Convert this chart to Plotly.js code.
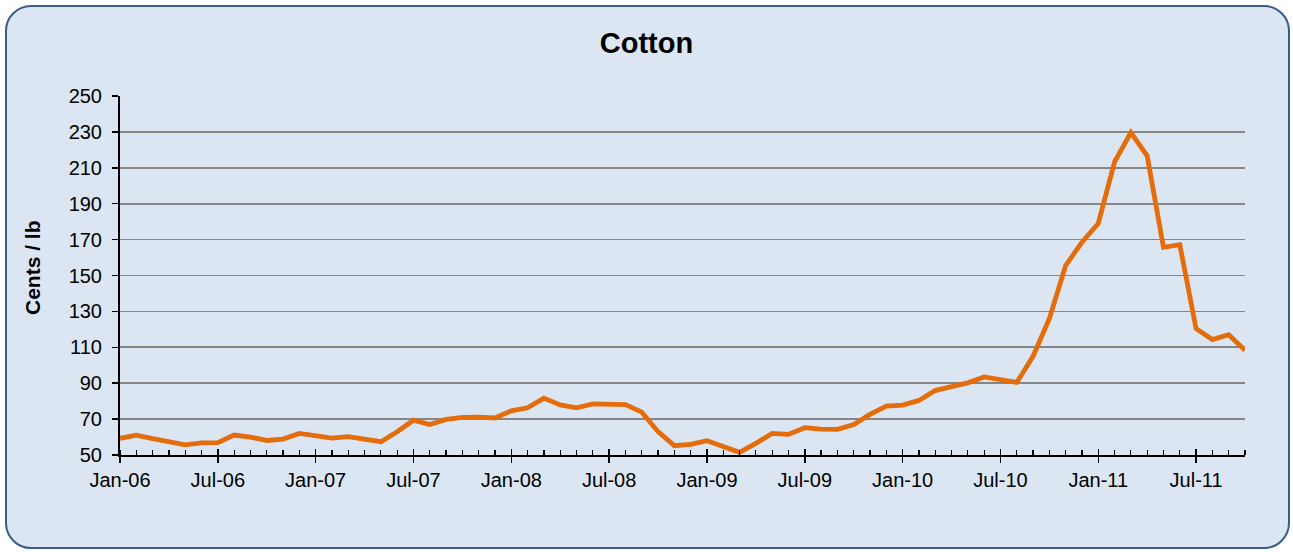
<!DOCTYPE html>
<html>
<head>
<meta charset="utf-8">
<script src="https://cdn.plot.ly/plotly-3.0.1.min.js"></script>
<style>
  html, body { margin: 0; padding: 0; background: #ffffff; }
  #frame {
    position: absolute; left: 5px; top: 5px; width: 1281px; height: 540px;
    border: 2.5px solid #385D8A; border-radius: 26px; background: #DCE6F2;
  }
  #chart { position: absolute; left: 0; top: 0; width: 1293px; height: 552px; }
</style>
</head>
<body>
<div id="frame"></div>
<div id="chart"></div>
<script>
// Monthly cotton prices (cents / lb), Jan-06 .. Oct-11
const months = [
  'Jan-06','Feb-06','Mar-06','Apr-06','May-06','Jun-06','Jul-06','Aug-06','Sep-06','Oct-06','Nov-06','Dec-06',
  'Jan-07','Feb-07','Mar-07','Apr-07','May-07','Jun-07','Jul-07','Aug-07','Sep-07','Oct-07','Nov-07','Dec-07',
  'Jan-08','Feb-08','Mar-08','Apr-08','May-08','Jun-08','Jul-08','Aug-08','Sep-08','Oct-08','Nov-08','Dec-08',
  'Jan-09','Feb-09','Mar-09','Apr-09','May-09','Jun-09','Jul-09','Aug-09','Sep-09','Oct-09','Nov-09','Dec-09',
  'Jan-10','Feb-10','Mar-10','Apr-10','May-10','Jun-10','Jul-10','Aug-10','Sep-10','Oct-10','Nov-10','Dec-10',
  'Jan-11','Feb-11','Mar-11','Apr-11','May-11','Jun-11','Jul-11','Aug-11','Sep-11','Oct-11'
];
const prices = [
  59.3, 61.1, 59.1, 57.4, 55.7, 56.7, 56.9, 61.1, 60.0, 58.1, 58.9, 62.0,
  60.7, 59.4, 60.2, 59.1, 57.4, 63.0, 69.4, 67.0, 69.8, 70.9, 71.1, 70.6,
  74.6, 76.3, 81.7, 77.9, 76.3, 78.5, 78.5, 78.1, 73.9, 63.0, 55.2, 55.9,
  58.0, 55.0, 51.5, 56.5, 62.0, 61.5, 65.2, 64.4, 64.3, 67.0, 72.6, 77.2,
  77.8, 80.4, 85.9, 88.1, 90.2, 93.5, 92.2, 90.4, 105.0, 126.0, 155.6, 168.5,
  179.0, 213.3, 229.6, 216.7, 165.7, 167.2, 120.4, 114.3, 117.0, 108.3
];
const tickLabels = ['Jan-06','Jul-06','Jan-07','Jul-07','Jan-08','Jul-08','Jan-09','Jul-09','Jan-10','Jul-10','Jan-11','Jul-11'];
const yTicks = [50, 70, 90, 110, 130, 150, 170, 190, 210, 230, 250];

const xIdx = months.map((m, i) => i);
const tickVals = tickLabels.map(l => months.indexOf(l));

const font = 'Liberation Sans, Arial, sans-serif';

const data = [
  {
    x: xIdx, y: prices, text: months, type: 'scatter', mode: 'lines',
    line: { color: '#E46C0A', width: 4.8 },
    hovertemplate: '%{text}: %{y}<extra></extra>'
  },
  { x: [], y: [], xaxis: 'x2', type: 'scatter', showlegend: false }
];

const layout = {
  width: 1293, height: 552,
  margin: { l: 120, r: 48, t: 96, b: 97 },
  paper_bgcolor: 'rgba(0,0,0,0)', plot_bgcolor: 'rgba(0,0,0,0)',
  showlegend: false,
  title: { text: '<b>Cotton</b>', x: 0.5, xanchor: 'center', y: 0.922, yanchor: 'middle',
           font: { family: font, size: 29, color: '#000' } },
  xaxis: {
    range: [0, months.length - 1], type: 'linear',
    tickvals: tickVals, ticktext: tickLabels,
    ticks: 'outside', ticklen: 6, tickwidth: 1.5, tickcolor: '#000',
    minor: { dtick: 1, tick0: 0, ticks: 'inside', ticklen: 5, tickwidth: 1.2, tickcolor: '#000', showgrid: false },
    showgrid: false, zeroline: false,
    showline: true, linecolor: '#000', linewidth: 2,
    tickfont: { family: font, size: 20, color: '#000' },
    fixedrange: true
  },
  xaxis2: {
    overlaying: 'x', matches: 'x', anchor: 'y',
    tickvals: tickVals, ticktext: tickLabels, showticklabels: false,
    ticks: 'inside', ticklen: 6, tickwidth: 1.5, tickcolor: '#000',
    showgrid: false, zeroline: false, showline: false, side: 'bottom'
  },
  yaxis: {
    range: [50, 250], tickvals: yTicks,
    ticks: 'outside', ticklen: 6, tickwidth: 1.5, tickcolor: '#000',
    ticklabelstandoff: 6,
    showgrid: true, gridcolor: '#868686', gridwidth: 1.6,
    zeroline: false, showline: true, linecolor: '#000', linewidth: 2,
    tickfont: { family: font, size: 20, color: '#000' },
    fixedrange: true
  },
  annotations: [
    { text: '<b>Cents / lb</b>', xref: 'paper', yref: 'paper',
      x: (32 - 120) / 1125, y: (455 - 268) / 359, xanchor: 'center', yanchor: 'middle',
      textangle: -90, showarrow: false, font: { family: font, size: 21, color: '#000' } }
  ]
};

Plotly.newPlot('chart', data, layout, { displayModeBar: false, staticPlot: true });
</script>
</body>
</html>
